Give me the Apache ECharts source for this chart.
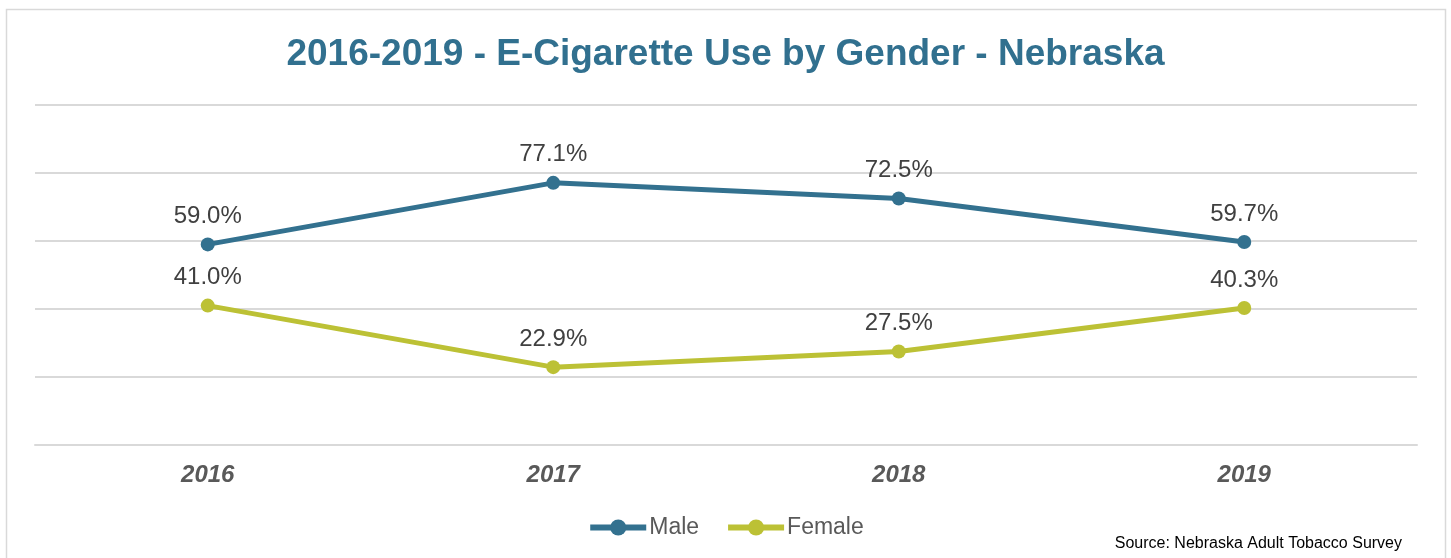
<!DOCTYPE html>
<html>
<head>
<meta charset="utf-8">
<script src="https://cdn.jsdelivr.net/npm/echarts@6/dist/echarts.min.js"></script>
<style>
  html, body { margin: 0; padding: 0; background: #fff; }
  #chart { width: 1451px; height: 558px; }
</style>
</head>
<body>
<div id="chart"></div>
<script>
const years = ['2016', '2017', '2018', '2019'];
const male = [59.0, 77.1, 72.5, 59.7];
const female = [41.0, 22.9, 27.5, 40.3];

const chart = echarts.init(document.getElementById('chart'));
const font = '"Liberation Sans", Arial, sans-serif';

const seriesStyle = (name, data, color) => ({
  name,
  type: 'line',
  data,
  symbol: 'circle',
  symbolSize: 14,
  lineStyle: { width: 5, color },
  itemStyle: { color },
  label: {
    show: true,
    position: 'top',
    distance: 9,
    formatter: (p) => p.value.toFixed(1) + '%',
    fontFamily: font,
    fontSize: 24,
    color: '#404040',
  },
});

chart.setOption({
  animation: false,
  title: {
    text: '2016-2019 - E-Cigarette Use by Gender - Nebraska',
    left: 'center',
    top: 31,
    textStyle: { fontFamily: font, fontSize: 37, fontWeight: 'bold', color: '#31708f' },
  },
  graphic: [
    {
      type: 'rect',
      shape: { x: 6.5, y: 9.5, width: 1439, height: 560 },
      style: { fill: null, stroke: '#d9d9d9', lineWidth: 1.5 },
      silent: true,
    },
    {
      type: 'text',
      right: 49,
      top: 536,
      style: { text: 'Source: Nebraska Adult Tobacco Survey', fontFamily: font, fontSize: 16, fill: '#000' },
    },
  ],
  legend: {
    bottom: 14,
    left: 'center',
    itemWidth: 56,
    itemHeight: 20,
    itemGap: 26,
    itemStyle: { borderWidth: 0 },
    lineStyle: { width: 6 },
    textStyle: { fontFamily: font, fontSize: 23, color: '#595959', padding: [0, 0, 0, -2] },
    data: ['Male', 'Female'],
  },
  grid: { left: 35, right: 34, top: 105, bottom: 113 },
  xAxis: {
    type: 'category',
    data: years,
    axisLine: { lineStyle: { color: '#d9d9d9', width: 2 } },
    axisTick: { show: false },
    axisLabel: {
      fontFamily: font,
      fontSize: 24,
      fontWeight: 'bold',
      fontStyle: 'italic',
      color: '#595959',
      margin: 18,
    },
  },
  yAxis: {
    type: 'value',
    min: 0,
    max: 100,
    interval: 20,
    axisLabel: { show: false },
    axisLine: { show: false },
    axisTick: { show: false },
    splitLine: { lineStyle: { color: '#d9d9d9', width: 2 } },
  },
  series: [
    seriesStyle('Male', male, '#33718f'),
    seriesStyle('Female', female, '#bcc135'),
  ],
});
</script>
</body>
</html>
